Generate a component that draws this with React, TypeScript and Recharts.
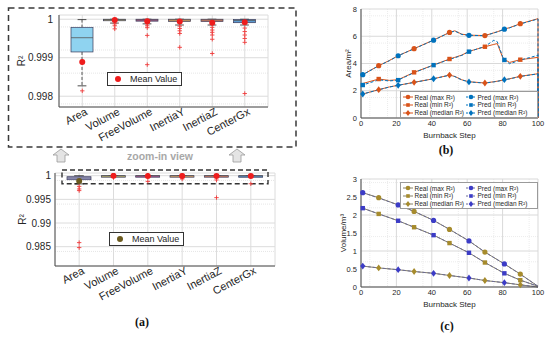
import React from 'react';
import {
  ComposedChart, LineChart, Line, Bar, Scatter, XAxis, YAxis, CartesianGrid, ReferenceArea,
} from 'recharts';

// ---- (a) box plot data ----
const categories = ['Area', 'Volume', 'FreeVolume', 'InertiaY', 'InertiaZ', 'CenterGx'];
const whiskerLow = [0.99827, 0.9999, 0.99988, 0.99985, 0.99985, 0.99985];
const whiskerHigh = [0.99999, 1, 1, 1, 1, 1];
const quart1 = [0.99915, 0.99996, 0.99995, 0.99994, 0.99994, 0.99991];
const medians = [0.99952, 0.99999, 0.99998, 0.99998, 0.99998, 0.99997];
const quart3 = [0.99979, 1, 1, 1, 1, 0.99999];
const meanValues = [0.99889, 0.99998, 0.99995, 0.99994, 0.99991, 0.99992];
const zoomOutliers = [
  [0.99814],
  [0.99994, 0.99988, 0.99983, 0.99975],
  [0.99992, 0.99988, 0.99983, 0.99978, 0.99958, 0.99882],
  [0.99982, 0.99976, 0.9997, 0.99963, 0.99927],
  [0.99979, 0.99972, 0.99966, 0.99959, 0.99948, 0.99911],
  [0.99977, 0.99968, 0.99959, 0.9995, 0.9994, 0.99807],
];
const fullOutliers = [
  [0.99775, 0.9972, 0.99685, 0.98586, 0.98481],
  [0.9996],
  [0.9988],
  [0.9993],
  [0.9991, 0.99537],
  [0.9983],
];
const zoomFills = ['#8fd3f0', '#c8bf6e', '#b45a98', '#f3b46c', '#ea8466', '#5b9bd2'];
const fullFills = ['#a3a3dc', '#c8bf6e', '#b45a98', '#f3b46c', '#ea8466', '#5b9bd2'];
const zoomMeanColors = ['#ee1c1c', '#ee1c1c', '#ee1c1c', '#ee1c1c', '#ee1c1c', '#ee1c1c'];
const fullMeanColors = ['#6b5a1e', '#ee1c1c', '#ee1c1c', '#ee1c1c', '#ee1c1c', '#ee1c1c'];
const zoomTicks = [0.998, 0.999, 1];
const zoomMinor = [0.9978, 0.9982, 0.9984, 0.9986, 0.9988, 0.9992, 0.9994, 0.9996, 0.9998];
const fullTicks = [0.985, 0.99, 0.995, 1];
const fullMinor = [0.981, 0.982, 0.983, 0.984, 0.986, 0.987, 0.988, 0.989, 0.991, 0.992, 0.993, 0.994, 0.996, 0.997, 0.998, 0.999];

// ---- (b) area curves ----
const areaSteps = [0, 1, 10, 16, 21, 30, 41, 50, 53, 57, 61, 70, 75, 77, 80, 81, 84, 90, 100, 100];
const areaRealMax = [3.1, 3.18, 3.84, 4.22, 4.57, 5.09, 5.72, 6.28, 6.4, 6.15, 6.08, 6.05, 6.25, 6.33, 6.47, 6.53, 6.63, 6.92, 7.29, 0];
const areaPredMax = [3.12, 3.18, 3.83, 4.2, 4.57, 5.08, 5.71, 6.27, 6.38, 6.13, 6.07, 6.04, 6.24, 6.32, 6.46, 6.52, 6.62, 6.9, 7.27, 0];
const areaRealMin = [2.49, 2.53, 2.86, 2.76, 2.81, 3.35, 3.89, 4.33, 4.45, 4.62, 4.89, 5.23, 5.4, 5.46, 4.45, 4.3, 4.08, 4.28, 4.45, 0];
const areaPredMin = [2.4, 2.42, 2.8, 2.72, 2.78, 3.33, 3.88, 4.3, 4.42, 4.6, 4.87, 5.25, 5.7, 5.6, 4.5, 4.26, 3.98, 4.25, 4.6, 0];
const areaRealMed = [1.72, 1.76, 2.08, 2.28, 2.4, 2.62, 2.88, 3.15, 3.05, 2.8, 2.66, 2.57, 2.66, 2.7, 2.78, 2.81, 2.88, 3.06, 3.25, 0];
const areaPredMed = [1.73, 1.76, 2.07, 2.27, 2.4, 2.61, 2.88, 3.14, 3.04, 2.79, 2.65, 2.56, 2.65, 2.69, 2.77, 2.81, 2.87, 3.05, 3.24, 0];

// ---- (c) volume curves ----
const volSteps = [1, 10, 21, 30, 41, 50, 61, 70, 81, 90, 100];
const volRealMax = [2.62, 2.48, 2.28, 2.1, 1.85, 1.6, 1.28, 0.97, 0.64, 0.36, 0.02];
const volPredMax = [2.62, 2.47, 2.28, 2.1, 1.85, 1.6, 1.28, 0.97, 0.64, 0.35, 0.02];
const volRealMin = [2.19, 2.03, 1.84, 1.66, 1.44, 1.22, 0.95, 0.68, 0.38, 0.19, 0.02];
const volPredMin = [2.19, 2.03, 1.84, 1.66, 1.44, 1.22, 0.95, 0.68, 0.38, 0.19, 0.02];
const volRealMed = [0.58, 0.53, 0.48, 0.43, 0.38, 0.32, 0.25, 0.18, 0.12, 0.06, 0.0];
const volPredMed = [0.58, 0.53, 0.48, 0.43, 0.38, 0.32, 0.25, 0.18, 0.12, 0.06, 0.0];

const realMarkSteps = [10, 30, 50, 70, 90];
const predMarkSteps = [1, 21, 41, 61, 81];
const stepTicks = [0, 20, 40, 60, 80, 100];
const stepMinor = [5, 10, 15, 25, 30, 35, 45, 50, 55, 65, 70, 75, 85, 90, 95];
const areaTicks = [0, 2, 4, 6, 8];
const areaMinor = [0.5, 1, 1.5, 2.5, 3, 3.5, 4.5, 5, 5.5, 6.5, 7, 7.5];
const volTicks = [0, 0.5, 1, 1.5, 2, 2.5, 3];
const volMinor = [0.1, 0.2, 0.3, 0.4, 0.6, 0.7, 0.8, 0.9, 1.1, 1.2, 1.3, 1.4, 1.6, 1.7, 1.8, 1.9, 2.1, 2.2, 2.3, 2.4, 2.6, 2.7, 2.8, 2.9];

const FONT = '"Liberation Sans", Arial, sans-serif';
const AXIS = '#4d4d4d';
const TXT = '#262626';

const ORANGE = '#d95319';
const BLUE = '#0072bd';
const OLIVE = '#a68b2c';
const INDIGO = '#3c3cc6';

const BoxShape = (props: any) => {
  const { x, y, width, height, payload } = props;
  if (x == null || y == null) return <g />;
  const top = Math.min(y, y + height);
  const h = Math.abs(height);
  const [lo, hi] = payload.range;
  const toY = (v: number) => top + ((hi - v) / (hi - lo)) * h;
  const cx = x + width / 2;
  const yQ3 = toY(payload.q3);
  const yQ1 = toY(payload.q1);
  const yMed = toY(payload.med);
  const cap = width * 0.2;
  return (
    <g>
      <line x1={cx} x2={cx} y1={top} y2={yQ3} stroke="#333" strokeWidth={0.8} strokeDasharray="3 2" />
      <line x1={cx} x2={cx} y1={yQ1} y2={top + h} stroke="#333" strokeWidth={0.8} strokeDasharray="3 2" />
      <line x1={cx - cap} x2={cx + cap} y1={top} y2={top} stroke="#222" strokeWidth={0.8} />
      <line x1={cx - cap} x2={cx + cap} y1={top + h} y2={top + h} stroke="#222" strokeWidth={0.8} />
      <rect x={x} y={yQ3} width={width} height={Math.max(yQ1 - yQ3, 1.5)} fill={payload.fill} stroke="#3a3a5a" strokeWidth={0.7} />
      <line x1={x} x2={x + width} y1={yMed} y2={yMed} stroke="#555" strokeWidth={0.8} />
    </g>
  );
};

const PlusShape = (props: any) => {
  const { cx, cy } = props;
  if (cx == null || cy == null) return <g />;
  return <path d={`M${cx - 2.2},${cy}h4.4M${cx},${cy - 2.2}v4.4`} stroke="#f03a3a" strokeWidth={0.9} />;
};

const MeanShape = (props: any) => {
  const { cx, cy, payload } = props;
  if (cx == null || cy == null) return <g />;
  return <circle cx={cx} cy={cy} r={3} fill={payload.color} />;
};

const CatTick = (props: any) => {
  const { x, y, payload, lift } = props;
  const ax = x + 6;
  const ay = y - (lift ?? 0);
  return (
    <text x={ax} y={ay} transform={`rotate(-28 ${ax} ${ay})`} textAnchor="end" fontSize={11} fill={TXT} fontFamily={FONT}>
      {payload.value}
    </text>
  );
};

interface BoxPanelProps {
  width: number;
  height: number;
  fills: string[];
  meanColors: string[];
  outliers: number[][];
  domain: [number, number];
  ticks: number[];
  minor: number[];
  top: number;
  right: number;
  axisWidth: number;
  axisHeight: number;
  pad: number;
  barSize: number;
  tickSize: number;
  labelOffset: number;
  lift: number;
  zoomBox?: boolean;
}

const BoxPanel = (p: BoxPanelProps) => {
  const boxes = categories.map((name, i) => ({
    name,
    range: [whiskerLow[i], whiskerHigh[i]],
    q1: quart1[i],
    med: medians[i],
    q3: quart3[i],
    fill: p.fills[i],
  }));
  const means = categories.map((name, i) => ({ name, value: meanValues[i], color: p.meanColors[i] }));
  const outs = categories.flatMap((name, i) => p.outliers[i].map((value) => ({ name, value })));
  return (
    <ComposedChart width={p.width} height={p.height} data={boxes} margin={{ top: p.top, right: p.right, bottom: 0, left: 0 }}>
      <CartesianGrid horizontalValues={p.minor} vertical={false} stroke="#e6e6e6" strokeDasharray="1 1" />
      <CartesianGrid stroke="#dcdcdc" />
      <XAxis
        dataKey="name"
        allowDuplicatedCategory={false}
        padding={{ left: p.pad, right: p.pad }}
        height={p.axisHeight}
        tick={<CatTick lift={p.lift} />}
        tickLine={false}
        interval={0}
        stroke={AXIS}
      />
      <XAxis xAxisId="top" orientation="top" dataKey="name" allowDuplicatedCategory={false} height={0} tick={false} tickLine={false} stroke={AXIS} />
      <YAxis
        domain={p.domain}
        ticks={p.ticks}
        allowDataOverflow
        type="number"
        width={p.axisWidth}
        tickLine={false}
        tickSize={p.tickSize}
        tickMargin={0}
        tickFormatter={(v: number) => String(v)}
        tick={{ fontSize: 10, fill: TXT, fontFamily: FONT }}
        stroke={AXIS}
        label={{ value: 'R²', angle: -90, position: 'insideLeft', offset: p.labelOffset, style: { textAnchor: 'middle', fontSize: 10, fill: TXT, fontFamily: FONT } }}
      />
      <YAxis yAxisId="right" orientation="right" width={0} tick={false} tickLine={false} stroke={AXIS} />
      <Bar dataKey="range" barSize={p.barSize} shape={<BoxShape />} isAnimationActive={false} />
      <Scatter data={outs} dataKey="value" shape={<PlusShape />} isAnimationActive={false} />
      <Scatter data={means} dataKey="value" shape={<MeanShape />} isAnimationActive={false} />
      {p.zoomBox && (
        <ReferenceArea
          x1="Area"
          x2="CenterGx"
          y1={0.9983}
          y2={1.0012}
          ifOverflow="visible"
          fill="none"
          stroke="#333"
          strokeWidth={1.4}
          strokeDasharray="5 3"
        />
      )}
    </ComposedChart>
  );
};

type Marker = 'circle' | 'square' | 'diamond';

const markerAt = (steps: number[], kind: Marker, color: string) => (props: any) => {
  const { cx, cy, payload, index } = props;
  const key = `m-${index}`;
  if (cx == null || cy == null || !steps.includes(payload.step)) return <g key={key} />;
  if (kind === 'circle') return <circle key={key} cx={cx} cy={cy} r={2.6} fill={color} />;
  if (kind === 'square') return <rect key={key} x={cx - 2.2} y={cy - 2.2} width={4.4} height={4.4} fill={color} />;
  return <path key={key} d={`M${cx},${cy - 3.4}L${cx + 2.6},${cy}L${cx},${cy + 3.4}L${cx - 2.6},${cy}Z`} fill={color} />;
};

interface CurveSpec {
  key: string;
  kind: Marker;
  real: boolean;
}

const curveSpecs: CurveSpec[] = [
  { key: 'realMax', kind: 'circle', real: true },
  { key: 'realMin', kind: 'square', real: true },
  { key: 'realMed', kind: 'diamond', real: true },
  { key: 'predMax', kind: 'circle', real: false },
  { key: 'predMin', kind: 'square', real: false },
  { key: 'predMed', kind: 'diamond', real: false },
];

interface CurvePanelProps {
  width: number;
  height: number;
  data: any[];
  top: number;
  axisHeight: number;
  yDomain: [number, number];
  yTicks: number[];
  yMinor: number[];
  yLabel: string;
  yLabelOffset: number;
  realColor: string;
  predColor: string;
  realLine: string;
  predLine: string;
}

const CurvePanel = (p: CurvePanelProps) => (
  <LineChart width={p.width} height={p.height} data={p.data} margin={{ top: p.top, right: 12, bottom: 0, left: 0 }}>
    <CartesianGrid horizontalValues={p.yMinor} verticalValues={stepMinor} stroke="#ececec" strokeDasharray="1 1" />
    <CartesianGrid stroke="#d9d9d9" />
    <XAxis
      dataKey="step"
      type="number"
      domain={[0, 100]}
      ticks={stepTicks}
      height={p.axisHeight}
      tickLine={false}
      tickSize={3}
      tickMargin={0}
      tick={{ fontSize: 7.5, fill: TXT, fontFamily: FONT }}
      stroke={AXIS}
      label={{ value: 'Burnback Step', position: 'insideTop', offset: 14, style: { fontSize: 8, fill: TXT, fontFamily: FONT } }}
    />
    <XAxis xAxisId="top" orientation="top" type="number" domain={[0, 100]} height={0} tick={false} tickLine={false} stroke={AXIS} />
    <YAxis
      type="number"
      domain={p.yDomain}
      ticks={p.yTicks}
      width={71}
      tickLine={false}
      tickSize={4}
      tickMargin={0}
      tick={{ fontSize: 7.5, fill: TXT, fontFamily: FONT }}
      stroke={AXIS}
      label={{ value: p.yLabel, angle: -90, position: 'insideLeft', offset: p.yLabelOffset, style: { textAnchor: 'middle', fontSize: 8, fill: TXT, fontFamily: FONT } }}
    />
    <YAxis yAxisId="right" orientation="right" width={0} tick={false} tickLine={false} stroke={AXIS} />
    {curveSpecs.map((s) => (
      <Line
        key={s.key}
        dataKey={s.key}
        type="linear"
        stroke={s.real ? p.realLine : p.predLine}
        strokeWidth={1}
        strokeDasharray={s.real ? undefined : '3 2'}
        dot={markerAt(s.real ? realMarkSteps : predMarkSteps, s.kind, s.real ? p.realColor : p.predColor)}
        activeDot={false}
        isAnimationActive={false}
      />
    ))}
  </LineChart>
);

const LegendIcon = ({ kind, color, dashed, line }: { kind: Marker; color: string; dashed: boolean; line: string }) => (
  <svg width={10} height={6} style={{ display: 'block', flex: 'none' }}>
    <line x1={0} x2={10} y1={3} y2={3} stroke={line} strokeWidth={1} strokeDasharray={dashed ? '2 1.5' : undefined} />
    {kind === 'circle' && <circle cx={5} cy={3} r={2.3} fill={color} />}
    {kind === 'square' && <rect x={3.2} y={1.2} width={3.6} height={3.6} fill={color} />}
    {kind === 'diamond' && <path d="M5,0L7.3,3L5,6L2.7,3Z" fill={color} />}
  </svg>
);

const legendRows: { label: string; kind: Marker }[] = [
  { label: 'max R²', kind: 'circle' },
  { label: 'min R²', kind: 'square' },
  { label: 'median R²', kind: 'diamond' },
];

const CurveLegend = ({ left, top, realColor, predColor, realLine, predLine }: any) => (
  <div
    style={{
      position: 'absolute', left, top, width: 138, height: 27, background: '#fff', border: '0.8px solid #9a9a9a',
      fontFamily: FONT, fontSize: 6.5, color: TXT, display: 'grid', gridTemplateColumns: '63px 73px', gridAutoRows: '7.8px',
      padding: '1.5px 0 0 2px', boxSizing: 'border-box', lineHeight: '7.8px', whiteSpace: 'nowrap',
    }}
  >
    {legendRows.flatMap((r) => [
      <div key={`r-${r.label}`} style={{ display: 'flex', alignItems: 'center', gap: 1.5 }}>
        <LegendIcon kind={r.kind} color={realColor} dashed={false} line={realLine} />
        <span>{`Real (${r.label})`}</span>
      </div>,
      <div key={`p-${r.label}`} style={{ display: 'flex', alignItems: 'center', gap: 1.5 }}>
        <LegendIcon kind={r.kind} color={predColor} dashed line={predLine} />
        <span>{`Pred (${r.label})`}</span>
      </div>,
    ])}
  </div>
);

const MeanLegend = ({ left, top, color }: { left: number; top: number; color: string }) => (
  <div
    style={{
      position: 'absolute', left, top, width: 75, height: 14, background: '#fff', border: '0.8px solid #333',
      boxSizing: 'border-box', display: 'flex', alignItems: 'center', fontFamily: FONT, fontSize: 9, color: TXT,
    }}
  >
    <svg width={20} height={10} style={{ flex: 'none' }}>
      <circle cx={10} cy={5} r={3} fill={color} />
    </svg>
    <span style={{ marginLeft: 2 }}>Mean Value</span>
  </div>
);

const PanelTag = ({ text, x, y }: { text: string; x: number; y: number }) => (
  <div
    style={{
      position: 'absolute', left: x - 15, top: y - 8, width: 30, textAlign: 'center',
      fontFamily: '"Liberation Serif", "DejaVu Serif", serif', fontWeight: 'bold', fontSize: 12, color: '#111',
    }}
  >
    {text}
  </div>
);

const areaData = areaSteps.map((step, i) => ({
  step,
  realMax: areaRealMax[i],
  realMin: areaRealMin[i],
  realMed: areaRealMed[i],
  predMax: areaPredMax[i],
  predMin: areaPredMin[i],
  predMed: areaPredMed[i],
}));

const volData = volSteps.map((step, i) => ({
  step,
  realMax: volRealMax[i],
  realMin: volRealMin[i],
  realMed: volRealMed[i],
  predMax: volPredMax[i],
  predMin: volPredMin[i],
  predMed: volPredMed[i],
}));

const Arrow = ({ x }: { x: number }) => (
  <path
    d={`M${x},149 L${x + 8},155 L${x + 4},155 L${x + 4},162 L${x - 4},162 L${x - 4},155 L${x - 8},155 Z`}
    fill="#e4e4e4"
    stroke="#9a9a9a"
    strokeWidth={0.8}
  />
);

export default function App() {
  return (
    <div style={{ position: 'absolute', left: 0, top: 0, width: 550, height: 337, background: '#fff', overflow: 'hidden' }}>
      <svg width={550} height={337} style={{ position: 'absolute', left: 0, top: 0 }}>
        <rect x={8.5} y={8} width={287.5} height={139} fill="none" stroke="#3a3a3a" strokeWidth={1.5} strokeDasharray="6 4" />
        <Arrow x={61} />
        <Arrow x={237} />
        <text x={160} y={160} textAnchor="middle" fontFamily={FONT} fontWeight="bold" fontSize={10.5} fill="#a8a8a8">
          zoom-in view
        </text>
      </svg>

      <div style={{ position: 'absolute', left: 0, top: 0 }}>
        <BoxPanel
          width={290}
          height={150}
          fills={zoomFills}
          meanColors={zoomMeanColors}
          outliers={zoomOutliers}
          domain={[0.99772, 1.00011]}
          ticks={zoomTicks}
          minor={zoomMinor}
          top={15}
          right={22}
          axisWidth={59}
          axisHeight={43}
          pad={7}
          barSize={22}
          tickSize={6}
          labelOffset={21}
          lift={1}
        />
      </div>
      <MeanLegend left={107} top={72} color="#ee1c1c" />

      <div style={{ position: 'absolute', left: 0, top: 160 }}>
        <BoxPanel
          width={290}
          height={150}
          fills={fullFills}
          meanColors={fullMeanColors}
          outliers={fullOutliers}
          domain={[0.98092, 1.00057]}
          ticks={fullTicks}
          minor={fullMinor}
          top={13}
          right={15}
          axisWidth={55}
          axisHeight={44}
          pad={7}
          barSize={24}
          tickSize={4}
          labelOffset={22}
          lift={1}
          zoomBox
        />
      </div>
      <MeanLegend left={109} top={232} color="#6b5a1e" />
      <PanelTag text="(a)" x={142} y={323} />

      <div style={{ position: 'absolute', left: 290, top: 0 }}>
        <CurvePanel
          width={260}
          height={160}
          data={areaData}
          top={9}
          axisHeight={42}
          yDomain={[0, 8]}
          yTicks={areaTicks}
          yMinor={areaMinor}
          yLabel="Area/m²"
          yLabelOffset={58}
          realColor={ORANGE}
          predColor={BLUE}
          realLine={ORANGE}
          predLine={BLUE}
        />
      </div>
      <CurveLegend left={400} top={91} realColor={ORANGE} predColor={BLUE} realLine={ORANGE} predLine={BLUE} />
      <PanelTag text="(b)" x={446} y={151} />

      <div style={{ position: 'absolute', left: 290, top: 165 }}>
        <CurvePanel
          width={260}
          height={172}
          data={volData}
          top={14}
          axisHeight={50}
          yDomain={[0, 3]}
          yTicks={volTicks}
          yMinor={volMinor}
          yLabel="Volume/m³"
          yLabelOffset={53}
          realColor={OLIVE}
          predColor={INDIGO}
          realLine="#858068"
          predLine="#6c6c96"
        />
      </div>
      <CurveLegend left={400} top={182} realColor={OLIVE} predColor={INDIGO} realLine="#858068" predLine="#6c6c96" />
      <PanelTag text="(c)" x={447} y={327} />
    </div>
  );
}
